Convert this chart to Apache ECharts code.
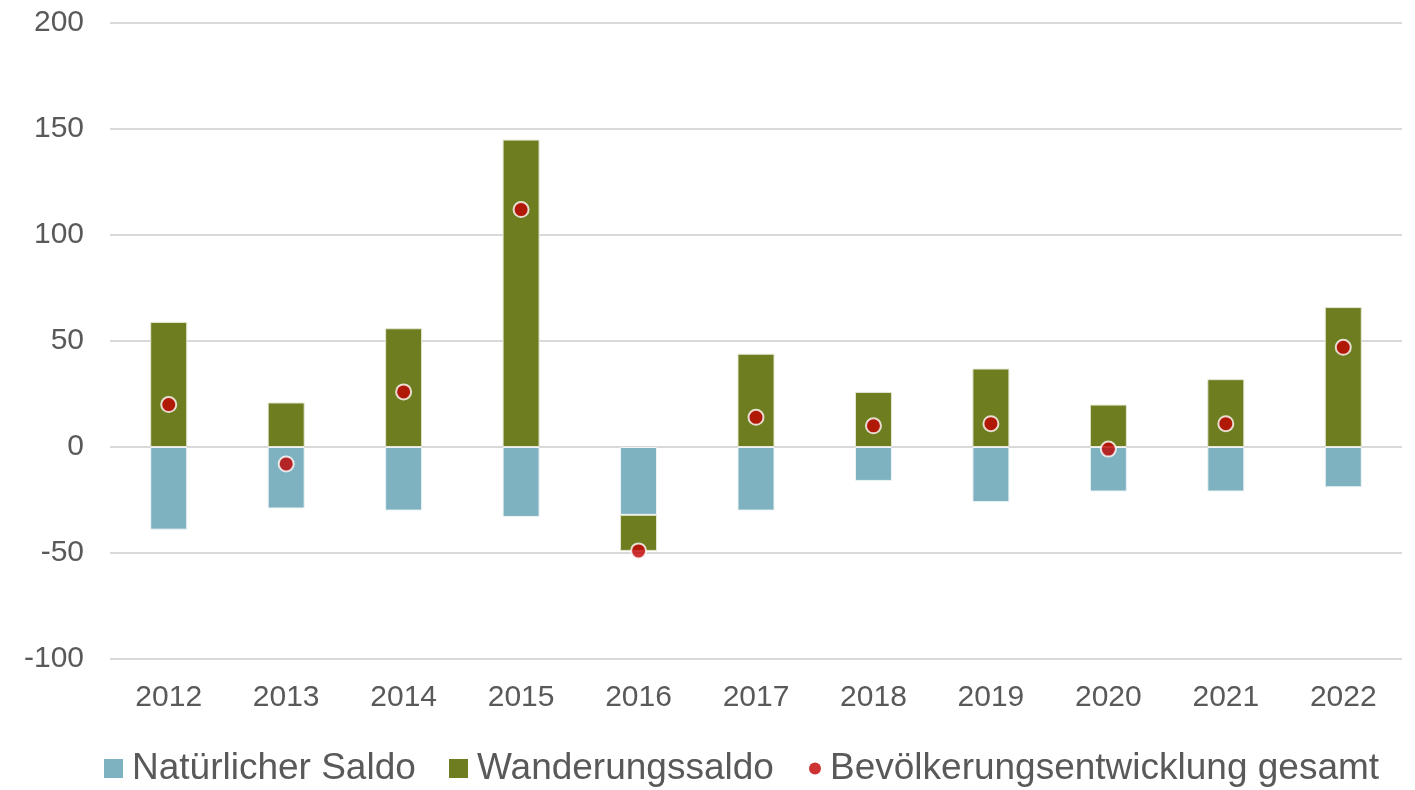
<!DOCTYPE html>
<html>
<head>
<meta charset="utf-8">
<script src="https://cdn.jsdelivr.net/npm/echarts@6/dist/echarts.min.js"></script>
<style>
  html, body { margin: 0; padding: 0; background: #fff; }
  #chart { width: 1415px; height: 790px; }
</style>
</head>
<body>
<div id="chart"></div>
<script>
const YEARS = ['2012', '2013', '2014', '2015', '2016', '2017', '2018', '2019', '2020', '2021', '2022'];
const natuerlich = [-39, -29, -30, -33, -32, -30, -16, -26, -21, -21, -19];
const wanderung = [59, 21, 56, 145, -17, 44, 26, 37, 20, 32, 66];
const gesamt = [20, -8, 26, 112, -49, 14, 10, 11, -1, 11, 47];

const chart = echarts.init(document.querySelector('#chart'));
const font = 'Liberation Sans, Arial, sans-serif';
const grey = '#595959';

// one legend per item so each sits where the original puts it
const legendText = { color: grey, fontSize: 37, fontFamily: font, padding: [0, 0, 0, 4] };
const legendBox = (name, left, icon, size) => ({
  data: [{ name: name, itemStyle: { borderWidth: 0 } }],
  left: left,
  top: 745,
  icon: icon,
  itemWidth: size,
  itemHeight: size,
  textStyle: legendText,
});

const option = {
  animation: false,
  textStyle: { fontFamily: font },
  grid: { left: 110, right: 13, top: 23, bottom: 131 },
  legend: [
    legendBox('Natürlicher Saldo', 99, 'rect', 19),
    legendBox('Wanderungssaldo', 444, 'rect', 19),
    legendBox('Bevölkerungsentwicklung gesamt', 804, 'circle', 12),
  ],
  xAxis: {
    type: 'category',
    data: YEARS,
    axisLine: { show: false },
    axisTick: { show: false },
    axisLabel: { color: grey, fontSize: 30, fontFamily: font, margin: 24 },
  },
  yAxis: {
    type: 'value',
    min: -100,
    max: 200,
    interval: 50,
    axisLabel: { color: grey, fontSize: 30, fontFamily: font, margin: 26 },
    splitLine: { lineStyle: { color: '#d9d9d9', width: 2 } },
  },
  series: [
    {
      name: 'Natürlicher Saldo',
      type: 'bar',
      stack: 'saldo',
      data: natuerlich,
      barWidth: 37,
      itemStyle: { color: '#7fb2c0', borderColor: '#eef4f6', borderWidth: 1 },
    },
    {
      name: 'Wanderungssaldo',
      type: 'bar',
      stack: 'saldo',
      data: wanderung,
      barWidth: 37,
      itemStyle: { color: '#6e7d1f', borderColor: '#e4e8d4', borderWidth: 1 },
    },
    {
      name: 'Bevölkerungsentwicklung gesamt',
      type: 'scatter',
      data: gesamt,
      symbolSize: 15,
      z: 5,
      itemStyle: { color: '#c00000', borderColor: '#ffffff', borderWidth: 2 },
    },
  ],
};

chart.setOption(option);
window.addEventListener('resize', () => chart.resize());
</script>
</body>
</html>
